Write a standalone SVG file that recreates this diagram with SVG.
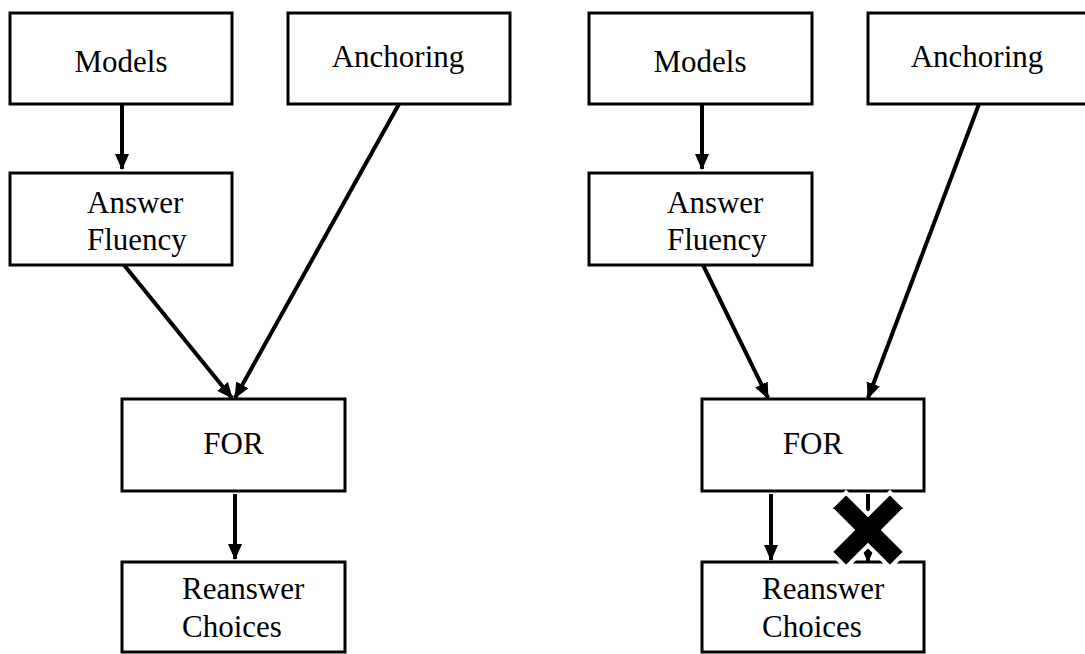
<svg xmlns="http://www.w3.org/2000/svg" width="1085" height="654" viewBox="0 0 1085 654">
<defs>
<style>
.box{fill:#fff;stroke:#000;stroke-width:3}
.t{font-family:"Liberation Serif","Times New Roman",serif;font-size:31px;fill:#000}
.c{text-anchor:middle}
.ln{stroke:#000;stroke-width:4;fill:none}
</style>
<marker id="ah" markerUnits="userSpaceOnUse" markerWidth="16" markerHeight="16" viewBox="0 0 16 16" refX="15" refY="8" orient="auto">
<path d="M0,1 L16,8 L0,15 Z" fill="#000"/>
</marker>
</defs>
<rect width="1085" height="654" fill="#fff"/>
<g id="connectors">
<line class="ln" x1="122" y1="105" x2="122" y2="169" marker-end="url(#ah)"/>
<line class="ln" x1="124" y1="265" x2="232" y2="398" marker-end="url(#ah)"/>
<line class="ln" x1="399" y1="104" x2="235" y2="398" marker-end="url(#ah)"/>
<line class="ln" x1="235" y1="494" x2="235" y2="559" marker-end="url(#ah)"/>
<line class="ln" x1="702" y1="105" x2="702" y2="169" marker-end="url(#ah)"/>
<line class="ln" x1="703" y1="265" x2="768" y2="398" marker-end="url(#ah)"/>
<line class="ln" x1="979" y1="104" x2="868" y2="398" marker-end="url(#ah)"/>
<line class="ln" x1="771" y1="494" x2="771" y2="560" marker-end="url(#ah)"/>
<line class="ln" x1="868" y1="494" x2="868" y2="562" marker-end="url(#ah)"/>
</g>
<g id="left-models"><rect class="box" x="10" y="13" width="222" height="91"/><text class="t c" x="121" y="72">Models</text></g>
<g id="left-anchoring"><rect class="box" x="288" y="13" width="222" height="91"/><text class="t c" x="398" y="67">Anchoring</text></g>
<g id="left-fluency"><rect class="box" x="10" y="173" width="222" height="92"/><text class="t" x="87" y="213">Answer</text><text class="t" x="87" y="250">Fluency</text></g>
<g id="left-for"><rect class="box" x="122" y="399" width="223" height="92"/><text class="t c" x="233.5" y="454">FOR</text></g>
<g id="left-reanswer"><rect class="box" x="122" y="562" width="223" height="90"/><text class="t" x="182" y="599">Reanswer</text><text class="t" x="182" y="637">Choices</text></g>
<g id="right-models"><rect class="box" x="589" y="13" width="223" height="91"/><text class="t c" x="700" y="72">Models</text></g>
<g id="right-anchoring"><rect class="box" x="868" y="13" width="222" height="91"/><text class="t c" x="977" y="67">Anchoring</text></g>
<g id="right-fluency"><rect class="box" x="589" y="173" width="223" height="92"/><text class="t" x="667" y="213">Answer</text><text class="t" x="667" y="250">Fluency</text></g>
<g id="right-for"><rect class="box" x="702" y="399" width="222" height="92"/><text class="t c" x="813" y="454">FOR</text></g>
<g id="right-reanswer"><rect class="box" x="702" y="562" width="222" height="90"/><text class="t" x="762" y="599">Reanswer</text><text class="t" x="762" y="637">Choices</text></g>
<g id="cross" transform="translate(868,530) rotate(45)">
<path d="M-11,-42 H11 V-11 H42 V11 H11 V42 H-11 V11 H-42 V-11 H-11 Z" fill="#000" stroke="#fff" stroke-width="4" stroke-linejoin="miter"/>
</g>
</svg>
